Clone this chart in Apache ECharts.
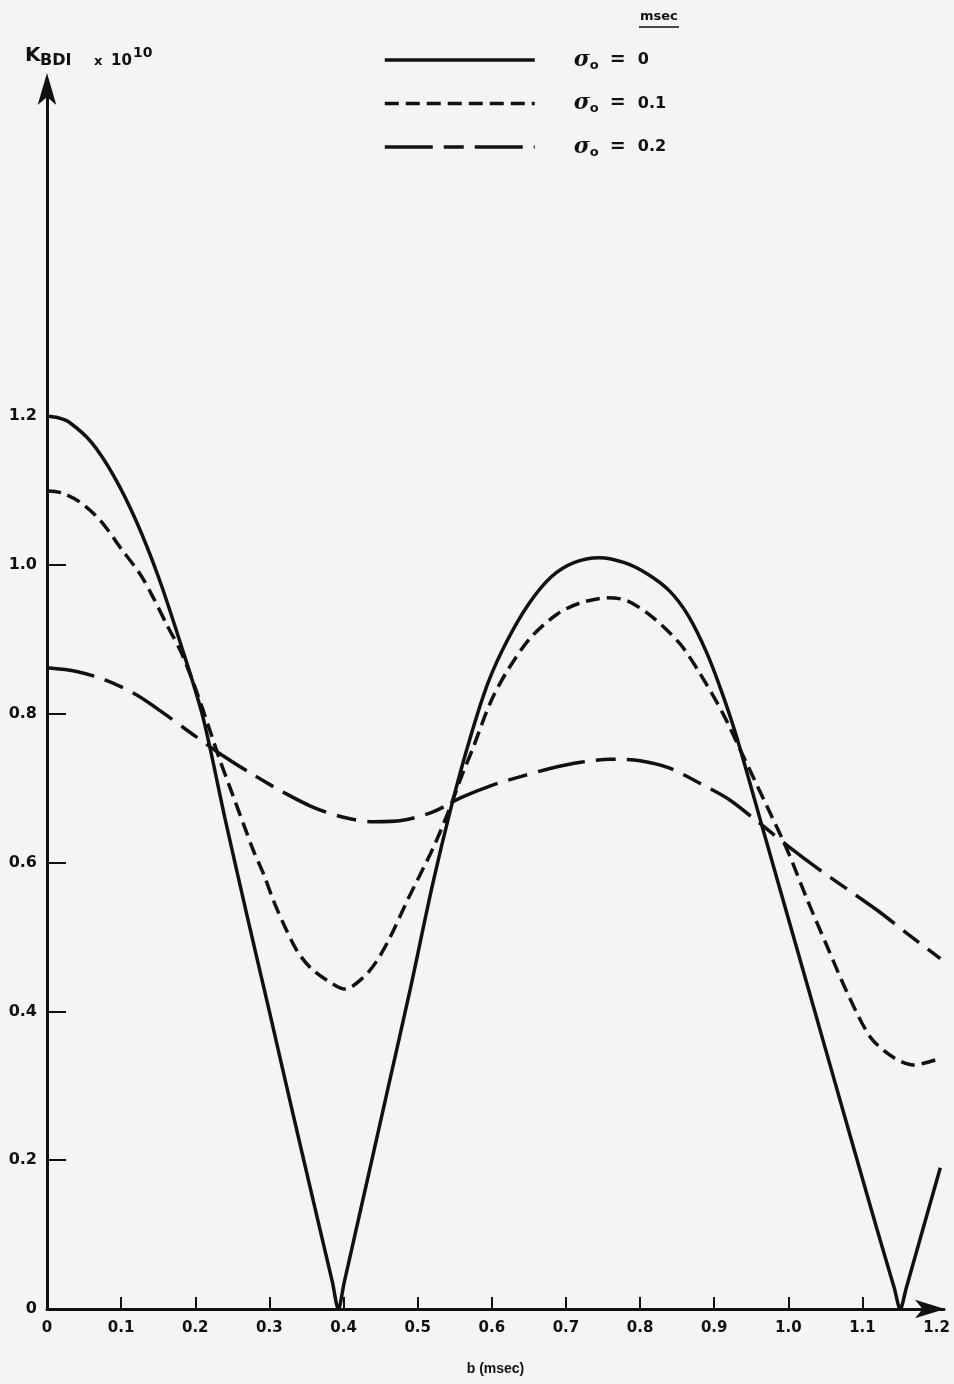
<!DOCTYPE html>
<html>
<head>
<meta charset="utf-8">
<script src="https://cdn.jsdelivr.net/npm/echarts@6/dist/echarts.min.js"></script>
<style>
html,body{margin:0;padding:0;background:#f4f4f2;}
#chart{width:954px;height:1384px;}
</style>
</head>
<body>
<div id="chart"></div>
<script>
// ---- data (b in msec, K_BDI x 10^10) ----
const xTickValues = [0.1,0.2,0.3,0.4,0.5,0.6,0.7,0.8,0.9,1.0,1.1];
const xLabelValues = [0,0.1,0.2,0.3,0.4,0.5,0.6,0.7,0.8,0.9,1.0,1.1,1.2];
const yTickValues = [0.2,0.4,0.6,0.8,1.0];
const yLabelValues = [0,0.2,0.4,0.6,0.8,1.0,1.2];

const seriesNames = ['σ0 = 0', 'σ0 = 0.1', 'σ0 = 0.2'];
const legendValues = ['0', '0.1', '0.2'];

// sigma0 = 0 (solid)
const b0 = [0,0.015,0.03,0.06,0.09,0.12,0.15,0.18,0.21,0.24,0.27,0.30,0.33,0.36,0.385,0.393,0.401,0.43,0.46,0.49,0.52,0.545,0.57,0.595,0.62,0.65,0.68,0.71,0.745,0.78,0.81,0.84,0.865,0.89,0.91,0.93,0.97,1.01,1.05,1.09,1.12,1.143,1.151,1.159,1.205];
const k0 = [1.2,1.198,1.192,1.165,1.12,1.06,0.985,0.895,0.797,0.66,0.528,0.40,0.27,0.142,0.036,0,0.036,0.164,0.297,0.43,0.57,0.674,0.765,0.842,0.897,0.948,0.984,1.003,1.01,1.003,0.988,0.965,0.932,0.882,0.83,0.77,0.63,0.49,0.35,0.21,0.106,0.028,0,0.028,0.19];

// sigma0 = 0.1 (short dash)
const b1 = [0,0.02,0.044,0.072,0.10,0.1255,0.1435,0.1615,0.18,0.20,0.22,0.2335,0.245,0.265,0.2785,0.292,0.3055,0.319,0.337,0.355,0.3775,0.402,0.427,0.445,0.463,0.486,0.521,0.54,0.56,0.575,0.598,0.621,0.652,0.688,0.719,0.756,0.783,0.818,0.854,0.881,0.912,0.935,0.972,0.999,1.026,1.053,1.08,1.111,1.142,1.169,1.205];
const k1 = [1.10,1.097,1.085,1.06,1.022,0.988,0.956,0.92,0.885,0.835,0.777,0.737,0.706,0.652,0.616,0.585,0.549,0.518,0.482,0.459,0.442,0.43,0.446,0.468,0.50,0.549,0.62,0.665,0.718,0.755,0.815,0.858,0.902,0.934,0.949,0.956,0.952,0.929,0.894,0.854,0.80,0.752,0.674,0.616,0.549,0.486,0.424,0.365,0.338,0.328,0.337];

// sigma0 = 0.2 (long dash)
const b2 = [0,0.04,0.08,0.12,0.16,0.20,0.24,0.28,0.32,0.36,0.40,0.44,0.48,0.52,0.56,0.60,0.64,0.68,0.72,0.76,0.80,0.84,0.88,0.92,0.96,1.00,1.04,1.08,1.12,1.16,1.205];
const k2 = [0.862,0.857,0.845,0.826,0.799,0.77,0.742,0.717,0.694,0.674,0.661,0.655,0.657,0.668,0.688,0.704,0.716,0.727,0.735,0.739,0.737,0.727,0.707,0.685,0.654,0.622,0.592,0.564,0.536,0.505,0.471];

const chart = echarts.init(document.getElementById('chart'), null, {renderer: 'canvas'});
const INK = '#111111';
const FONT = '"DejaVu Sans", sans-serif';
const fmt = v => (v === 0 ? '0' : v.toFixed(1));

const legendRich = {
  g: {width: 34, lineHeight: 24},
  s: {fontFamily: '"DejaVu Serif", serif', fontStyle: 'italic', fontWeight: 'bold', fontSize: 22, width: 16, lineHeight: 24, color: INK, verticalAlign: 'middle'},
  o: {fontFamily: FONT, fontWeight: 'bold', fontSize: 13, width: 20, lineHeight: 24, color: INK, verticalAlign: 'bottom'},
  e: {fontFamily: FONT, fontWeight: 'bold', fontSize: 19, width: 28, lineHeight: 24, color: INK, verticalAlign: 'middle'},
  v: {fontFamily: FONT, fontWeight: 'bold', fontSize: 16, lineHeight: 24, color: INK, verticalAlign: 'middle'}
};

const option = {
  backgroundColor: '#f4f4f2',
  animation: false,
  grid: {left: 47, right: 10, top: 89, bottom: 75, containLabel: false},
  legend: {
    data: seriesNames,
    orient: 'vertical',
    left: 383,
    top: 49,
    padding: 0,
    itemWidth: 150,
    itemHeight: 24,
    itemGap: 20.5,
    selectedMode: false,
    itemStyle: {opacity: 0},
    lineStyle: {width: 3.5},
    formatter: function (name) {
      const i = seriesNames.indexOf(name);
      return '{g| }{s|σ}{o|o}{e|=}{v|' + legendValues[i] + '}';
    },
    textStyle: {rich: legendRich, color: INK}
  },
  xAxis: {
    type: 'value',
    min: 0,
    max: 1.21,
    name: 'b (msec)',
    nameLocation: 'middle',
    nameGap: 53,
    nameTextStyle: {fontFamily: '"Liberation Sans", Arial, sans-serif', fontWeight: 'bold', fontSize: 14, color: INK},
    splitLine: {show: false},
    axisLine: {show: true, symbol: ['none', 'arrow'], symbolSize: [14, 30], symbolOffset: [0, 1], lineStyle: {color: INK, width: 3}},
    axisTick: {show: true, inside: true, length: 12, customValues: xTickValues, lineStyle: {color: INK, width: 2}},
    axisLabel: {customValues: xLabelValues, formatter: fmt, margin: 12, fontFamily: FONT, fontWeight: 'bold', fontSize: 15, color: INK}
  },
  yAxis: {
    type: 'value',
    min: 0,
    max: 1.64,
    splitLine: {show: false},
    axisLine: {show: true, symbol: ['none', 'arrow'], symbolSize: [14, 32], symbolOffset: [0, 16], lineStyle: {color: INK, width: 3}},
    axisTick: {show: true, inside: true, length: 19, customValues: yTickValues, lineStyle: {color: INK, width: 2}},
    axisLabel: {customValues: yLabelValues, formatter: fmt, margin: 10, fontFamily: FONT, fontWeight: 'bold', fontSize: 16, color: INK}
  },
  series: [
    {name: seriesNames[0], type: 'line', symbol: 'none', smooth: 0.3, data: b0.map((b, i) => [b, k0[i]]),
     lineStyle: {color: INK, width: 3.5, type: 'solid'}, itemStyle: {color: INK}},
    {name: seriesNames[1], type: 'line', symbol: 'none', smooth: 0.3, data: b1.map((b, i) => [b, k1[i]]),
     lineStyle: {color: INK, width: 3.5, type: [14, 7]}, itemStyle: {color: INK}},
    {name: seriesNames[2], type: 'line', symbol: 'none', smooth: 0.3, data: b2.map((b, i) => [b, k2[i]]),
     lineStyle: {color: INK, width: 3.5, type: [48, 11, 20, 11]}, itemStyle: {color: INK}}
  ],
  graphic: [
    {type: 'text', x: 25, y: 56, style: {text: 'K', fontFamily: FONT, fontWeight: 'bold', fontSize: 20, fill: INK, verticalAlign: 'middle'}},
    {type: 'text', x: 40, y: 61, style: {text: 'BDI', fontFamily: FONT, fontWeight: 'bold', fontSize: 16, fill: INK, verticalAlign: 'middle'}},
    {type: 'text', x: 94, y: 62, style: {text: 'x', fontFamily: FONT, fontWeight: 'bold', fontSize: 13, fill: INK, verticalAlign: 'middle'}},
    {type: 'text', x: 111, y: 61, style: {text: '10', fontFamily: FONT, fontWeight: 'bold', fontSize: 15, fill: INK, verticalAlign: 'middle'}},
    {type: 'text', x: 133, y: 53, style: {text: '10', fontFamily: FONT, fontWeight: 'bold', fontSize: 14, fill: INK, verticalAlign: 'middle'}},
    {type: 'text', x: 640, y: 17, style: {text: 'msec', fontFamily: FONT, fontWeight: 'bold', fontSize: 13, fill: INK, verticalAlign: 'middle'}},
    {type: 'line', shape: {x1: 639, y1: 27, x2: 679, y2: 27}, style: {stroke: INK, lineWidth: 1.5}}
  ]
};
chart.setOption(option);
</script>
</body>
</html>
